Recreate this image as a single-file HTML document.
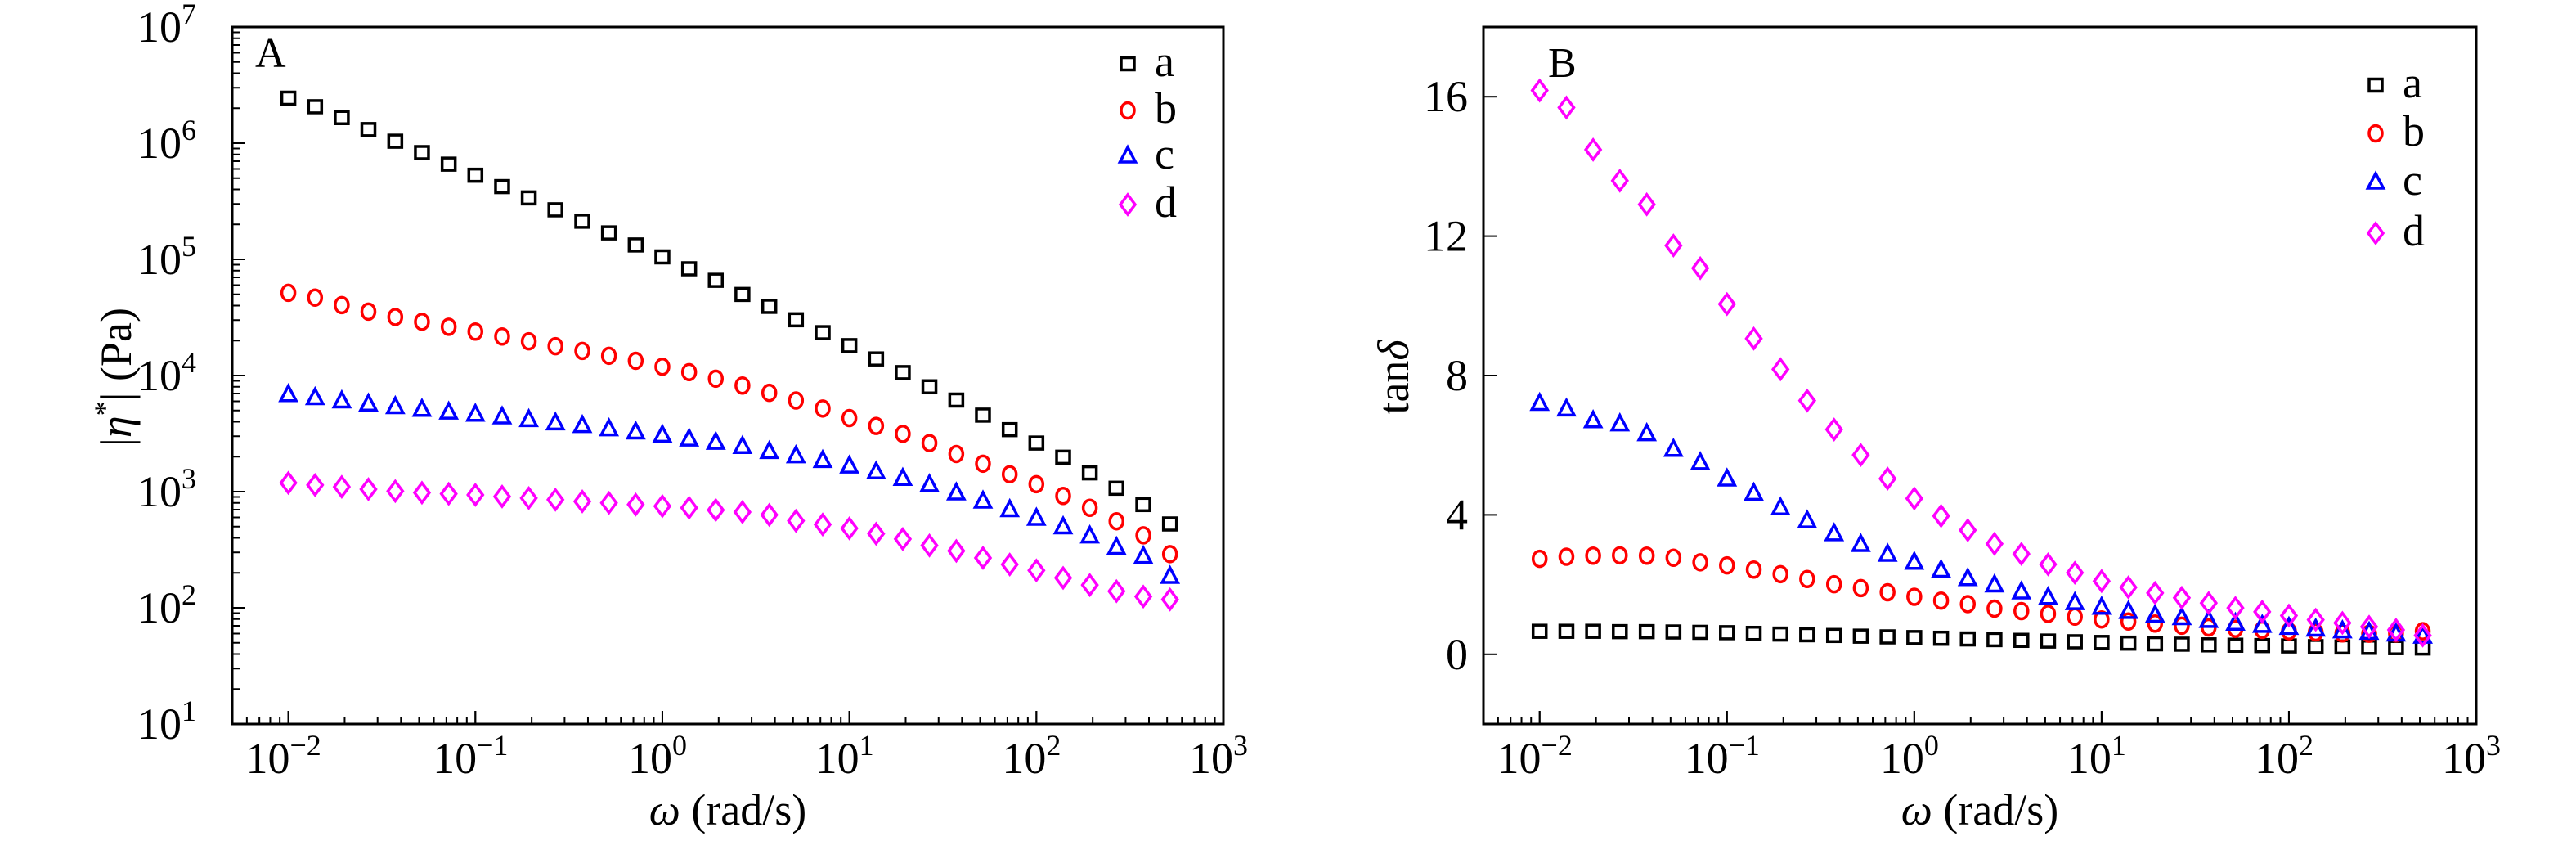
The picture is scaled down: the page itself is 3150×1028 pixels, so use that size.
<!DOCTYPE html>
<html><head><meta charset="utf-8"><style>
html,body{margin:0;padding:0;background:#fff;}
svg{display:block;}
svg text{font-family:"Liberation Serif","Times New Roman",serif;}
</style></head><body>
<svg id="chart" width="3150" height="1028" viewBox="0 0 3150 1028" font-family="Liberation Serif, serif" xmlns="http://www.w3.org/2000/svg"></svg>
<script>
const omega=[0.01,0.0139,0.0193,0.0268,0.0373,0.0518,0.0720,0.100,0.139,0.193,0.268,0.373,0.518,0.720,1.00,1.39,1.93,2.68,3.73,5.18,7.20,10.0,13.9,19.3,26.8,37.3,51.8,72.0,100,139,193,268,373,518];
const etaA=[2.44e6,2.06e6,1.66e6,1.31e6,1.04e6,8.3e5,6.6e5,5.3e5,4.23e5,3.38e5,2.67e5,2.13e5,1.69e5,1.33e5,1.05e5,8.3e4,6.6e4,4.99e4,3.94e4,3.02e4,2.34e4,1.81e4,1.39e4,1.06e4,8.0e3,6.15e3,4.56e3,3.42e3,2.62e3,1.98e3,1.45e3,1.07e3,774,527];
const etaB=[5.15e4,4.69e4,4.04e4,3.55e4,3.19e4,2.90e4,2.63e4,2.39e4,2.17e4,1.97e4,1.79e4,1.63e4,1.48e4,1.34e4,1.19e4,1.07e4,9.4e3,8.2e3,7.1e3,6.1e3,5.2e3,4.3e3,3.68e3,3.14e3,2.62e3,2.11e3,1.74e3,1.41e3,1.16e3,918,726,556,421,290];
const etaC=[6.8e3,6.4e3,6.0e3,5.65e3,5.36e3,5.08e3,4.81e3,4.61e3,4.37e3,4.14e3,3.88e3,3.68e3,3.45e3,3.24e3,3.04e3,2.82e3,2.64e3,2.43e3,2.20e3,2.02e3,1.84e3,1.65e3,1.47e3,1.29e3,1.14e3,968,824,695,586,494,412,329,275,185];
const etaD=[1190,1140,1100,1050,1010,979,958,938,908,880,852,824,800,774,750,726,695,667,631,561,521,483,434,391,344,309,269,236,210,181,157,139,125,118];
const tanA=[0.66,0.66,0.66,0.65,0.65,0.64,0.63,0.62,0.60,0.58,0.56,0.54,0.52,0.50,0.48,0.46,0.44,0.42,0.40,0.38,0.36,0.34,0.32,0.30,0.29,0.27,0.26,0.25,0.24,0.22,0.21,0.20,0.19,0.18];
const tanB=[2.74,2.80,2.83,2.84,2.83,2.77,2.64,2.55,2.43,2.30,2.16,2.01,1.90,1.78,1.65,1.54,1.44,1.31,1.24,1.16,1.08,1.00,0.94,0.88,0.82,0.77,0.73,0.70,0.66,0.63,0.60,0.59,0.60,0.66];
const tanC=[7.19,7.03,6.69,6.60,6.32,5.87,5.49,5.02,4.61,4.19,3.82,3.45,3.14,2.86,2.63,2.40,2.16,1.98,1.78,1.62,1.47,1.34,1.22,1.11,1.04,0.96,0.88,0.82,0.76,0.71,0.66,0.62,0.57,0.51];
const tanD=[16.18,15.69,14.48,13.59,12.91,11.73,11.08,10.05,9.06,8.18,7.28,6.45,5.72,5.04,4.47,3.97,3.56,3.17,2.88,2.58,2.34,2.10,1.92,1.76,1.62,1.47,1.33,1.22,1.11,0.99,0.90,0.79,0.70,0.54];
const xExps=[-2,-1,0,1,2,3];
const yExpsA=[1,2,3,4,5,6,7];
const yTicksB=[0,4,8,12,16];
const seriesNames=['a','b','c','d'];

const NS='http://www.w3.org/2000/svg';
const svg=document.getElementById('chart');
const FONT='Liberation Serif, serif';
function el(tag,attrs,parent,text){const e=document.createElementNS(NS,tag);for(const k in attrs)e.setAttribute(k,attrs[k]);if(tag==='text')e.setAttribute('font-family',FONT);if(text!==undefined)e.textContent=text;(parent||svg).appendChild(e);return e;}

const colors=['#000000','#ff0000','#0000ff','#ff00ff'];
function marker(g,type,x,y,c){
  let m;
  if(type===0)m=el('rect',{x:x-8,y:y-7.5,width:16,height:15,fill:'none',stroke:c,'stroke-width':3.5},g);
  else if(type===1)m=el('ellipse',{cx:x,cy:y,rx:8,ry:9.5,fill:'none',stroke:c,'stroke-width':3.5},g);
  else if(type===2)m=el('polygon',{points:`${x},${y-11} ${x+9.5},${y+7} ${x-9.5},${y+7}`,fill:'none',stroke:c,'stroke-width':3.5},g);
  else m=el('polygon',{points:`${x},${y-12} ${x+9},${y} ${x},${y+12} ${x-9},${y}`,fill:'none',stroke:c,'stroke-width':3.5},g);
  return m;
}

function panel(opt){
  const {L,R,T,B}=opt;
  const g=el('g',{});
  
  
  const xs=v=>L+(Math.log10(v)+2.3)/5.3*(R-L);
  const fr=el('rect',{x:L,y:T,width:R-L,height:B-T,fill:'none',stroke:'#000','stroke-width':3},g);
  
  const xa=el('g',{},g);
  for(let e=-3;e<=2;e++)for(let m=1;m<10;m++){const v=m*Math.pow(10,e);if(v<Math.pow(10,-2.3)||v>1000)continue;const x=xs(v);el('line',{x1:x,x2:x,y1:B,y2:B-(m===1?16:9),stroke:'#000','stroke-width':2},xa);}
  xExps.forEach(e=>{const x=xs(Math.pow(10,e));el('line',{x1:x,x2:x,y1:B,y2:B-16,stroke:'#000','stroke-width':2},xa);
    const t=el('text',{x:x-6,y:945,'font-size':54,'text-anchor':'middle'},xa);
    
    el('tspan',{},t,'10');el('tspan',{dy:-22,'font-size':36},t,String(e).replace('-','\u2212'));});
  const xt=el('text',{x:(L+R)/2,y:1008,'font-size':54,'text-anchor':'middle'},g);
  
  el('tspan',{'font-style':'italic'},xt,'\u03C9');el('tspan',{},xt,' (rad/s)');
  const pl=el('text',{x:opt.letterX,y:opt.letterY,'font-size':52},g,opt.letter);
  
  const ys=opt.ys;
  opt.data.forEach((arr,si)=>{const sg=el('g',{},g);
    arr.forEach((v,i)=>{const m=marker(sg,si,xs(omega[i]),ys(v),colors[si]);});});
  const lg=el('g',{},g);
  seriesNames.forEach((n,i)=>{const y=opt.legY[i];const eg=el('g',{},lg);
    marker(eg,i,opt.legX,y,colors[i]);el('text',{x:opt.legX+33,y:y+15,'font-size':54},eg,n);});
  return {g,ys};
}

const LA=284,RA=1496,TA=33,BA=885;
const ysA=v=>BA-(Math.log10(v)-1)/6*(BA-TA);
const pA=panel({name:'panel-a-viscosity',L:LA,R:RA,T:TA,B:BA,ys:ysA,data:[etaA,etaB,etaC,etaD],letter:'A',letterX:312,letterY:82,legX:1379,legY:[78,135,191,250]});
const yaA=el('g',{},pA.g);
for(let e=1;e<7;e++)for(let m=2;m<10;m++){const y=ysA(m*Math.pow(10,e));el('line',{x1:LA,x2:LA+9,y1:y,y2:y,stroke:'#000','stroke-width':2},yaA);}
yExpsA.forEach(e=>{const y=ysA(Math.pow(10,e));el('line',{x1:LA,x2:LA+16,y1:y,y2:y,stroke:'#000','stroke-width':2},yaA);
  const t=el('text',{x:240,y:y+18,'font-size':54,'text-anchor':'end'},yaA);
  el('tspan',{},t,'10');el('tspan',{dy:-22,'font-size':36},t,String(e));});
const ytA=el('text',{x:0,y:0,'font-size':54,'text-anchor':'middle',transform:'translate(160,461) rotate(-90)'},pA.g);

el('tspan',{},ytA,'|');el('tspan',{'font-style':'italic'},ytA,'\u03B7');el('tspan',{dy:-20,'font-size':36},ytA,'*');el('tspan',{dy:20},ytA,'| (Pa)');

const LB=1814,RB=3028,TB=33,BB=885;
const ysB=v=>BB-(v+2)/20*(BB-TB);
const pB=panel({name:'panel-b-tan-delta',L:LB,R:RB,T:TB,B:BB,ys:ysB,data:[tanA,tanB,tanC,tanD],letter:'B',letterX:1893,letterY:94,legX:2905,legY:[104,163,223,285]});
const yaB=el('g',{},pB.g);
yTicksB.forEach(v=>{const y=ysB(v);el('line',{x1:LB,x2:LB+16,y1:y,y2:y,stroke:'#000','stroke-width':2},yaB);
  const t=el('text',{x:1795,y:y+18,'font-size':54,'text-anchor':'end'},yaB,String(v));});
const ytB=el('text',{x:0,y:0,'font-size':54,'text-anchor':'middle',transform:'translate(1722,461) rotate(-90)'},pB.g);

el('tspan',{},ytB,'tan');el('tspan',{'font-style':'italic'},ytB,'\u03B4');
</script>
</body></html>
